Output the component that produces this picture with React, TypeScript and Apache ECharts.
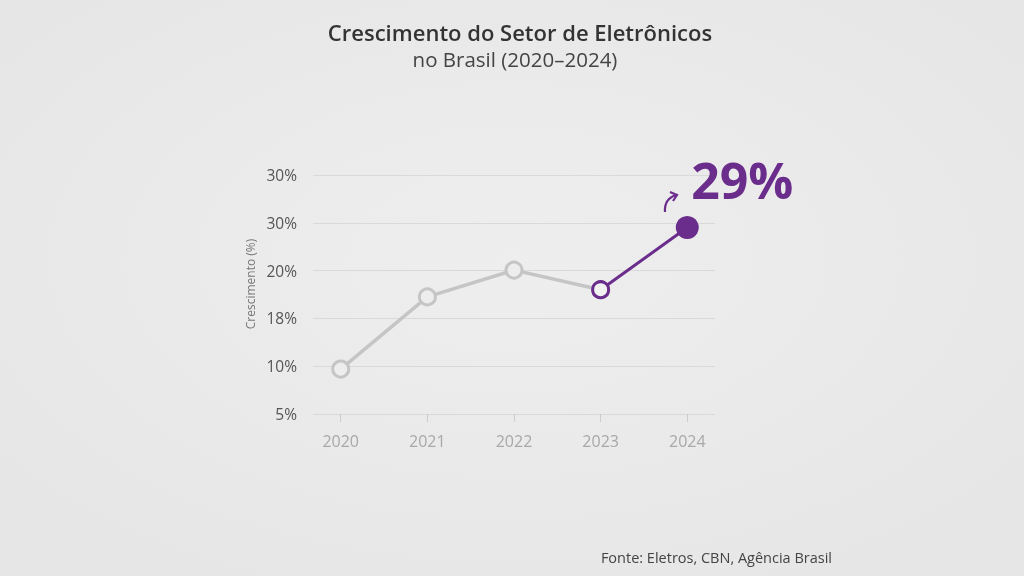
import React, { useEffect, useRef } from "react";
import * as echarts from "echarts";

// Years on the horizontal axis
const years = ["2020", "2021", "2022", "2023", "2024"];
// Sector growth per year, in percent
const growth = [9.7, 18.9, 20.1, 19.2, 29];
// Tick labels of the vertical axis, bottom to top (evenly spaced rows)
const yTickLabels = ["5%", "10%", "18%", "20%", "30%", "30%"];

const PURPLE = "#6a2d8c";
const GRAY = "#c5c5c5";
const FONT = "'Open Sans', 'Noto Sans', sans-serif";

// Map a percentage onto the evenly spaced tick rows (piecewise linear between tick values)
const tickValues = yTickLabels.map((s) => parseFloat(s));
function toRow(v: number): number {
  for (let i = 0; i < tickValues.length - 1; i++) {
    const a = tickValues[i];
    const b = tickValues[i + 1];
    if (b > a && v >= a && v <= b) return i + (v - a) / (b - a);
  }
  return v < tickValues[0] ? 0 : tickValues.length - 1;
}

export default function App() {
  const ref = useRef<HTMLDivElement>(null);

  useEffect(() => {
    if (!ref.current) return;
    echarts.graphic.registerShape(
      "curlArrow",
      echarts.graphic.extendPath("M0 18 Q-1 5 11 1 M5 -2 L12 1 L8 7", {})
    );
    const chart = echarts.init(ref.current, null, { renderer: "svg" });

    const last = years.length - 1;
    const grayData = growth.slice(0, last).map((v, i) => [i, toRow(v)]);
    const purpleData = growth.slice(last - 1).map((v, k) => {
      const i = last - 1 + k;
      const isLast = i === last;
      return {
        value: [i, toRow(v)],
        symbolSize: isLast ? 23 : 16,
        itemStyle: isLast
          ? { color: PURPLE, borderColor: PURPLE, borderWidth: 0 }
          : { color: "#f2f2f2", borderColor: PURPLE, borderWidth: 3 },
        label: isLast
          ? {
              show: true,
              position: "top",
              offset: [55, -6],
              formatter: () => `${v}%`,
              color: PURPLE,
              fontSize: 50,
              fontWeight: "bold",
              fontFamily: FONT,
            }
          : { show: false },
      };
    });

    chart.setOption({
      animation: false,
      backgroundColor: new echarts.graphic.RadialGradient(0.5, 0.45, 0.75, [
        { offset: 0, color: "#eeeeee" },
        { offset: 1, color: "#e5e5e5" },
      ]),
      title: [
        {
          text: "Crescimento do Setor de Eletrônicos",
          left: 515,
          textAlign: "center",
          top: 16,
          textStyle: { fontFamily: FONT, fontSize: 22, fontWeight: 600, color: "#333333" },
        },
        {
          text: "no Brasil (2020–2024)",
          left: 510,
          textAlign: "center",
          top: 43,
          textStyle: { fontFamily: FONT, fontSize: 20.5, fontWeight: "normal", color: "#444444" },
        },
      ],
      grid: { left: 313, right: 309, top: 175, bottom: 162 },
      xAxis: {
        type: "value",
        min: -0.32,
        max: 4.32,
        splitLine: { show: false },
        axisLine: { show: false },
        axisTick: {
          show: true,
          customValues: years.map((_, i) => i),
          length: 8,
          lineStyle: { color: "#cccccc" },
        },
        axisLabel: {
          customValues: years.map((_, i) => i),
          formatter: (v: number) => years[Math.round(v)] ?? "",
          color: "#a8a8a8",
          fontSize: 16,
          fontFamily: FONT,
          margin: 19,
        },
      },
      yAxis: {
        type: "value",
        min: 0,
        max: yTickLabels.length - 1,
        interval: 1,
        axisLine: { show: false },
        axisTick: { show: false },
        splitLine: { lineStyle: { color: "#d9d9d9", width: 1 } },
        axisLabel: {
          formatter: (v: number) => yTickLabels[Math.round(v)] ?? "",
          color: "#555555",
          fontSize: 15.5,
          fontFamily: FONT,
          margin: 16,
        },
      },
      series: [
        {
          type: "line",
          data: grayData,
          symbol: "circle",
          symbolSize: 16,
          showAllSymbol: true,
          lineStyle: { color: GRAY, width: 3.5 },
          itemStyle: { color: "#ededed", borderColor: GRAY, borderWidth: 3 },
          z: 2,
        },
        {
          type: "line",
          data: purpleData,
          symbol: "circle",
          showAllSymbol: true,
          lineStyle: { color: PURPLE, width: 3 },
          z: 3,
        },
      ],
      graphic: [
        {
          type: "text",
          x: 250,
          y: 284,
          rotation: Math.PI / 2,
          style: {
            text: "Crescimento (%)",
            fill: "#777777",
            fontSize: 12,
            fontFamily: FONT,
            textAlign: "center",
            textVerticalAlign: "middle",
          },
        },
        {
          type: "curlArrow",
          x: 665,
          y: 194,
          style: { stroke: PURPLE, lineWidth: 2.2, fill: "none" },
        },
        {
          type: "text",
          x: 832,
          y: 557,
          style: {
            text: "Fonte: Eletros, CBN, Agência Brasil",
            fill: "#444444",
            fontSize: 14.5,
            fontFamily: FONT,
            textAlign: "right",
            textVerticalAlign: "middle",
          },
        },
      ],
    });

    return () => chart.dispose();
  }, []);

  return (
    <div
      ref={ref}
      style={{ position: "fixed", left: 0, top: 0, width: 1024, height: 576 }}
    />
  );
}
